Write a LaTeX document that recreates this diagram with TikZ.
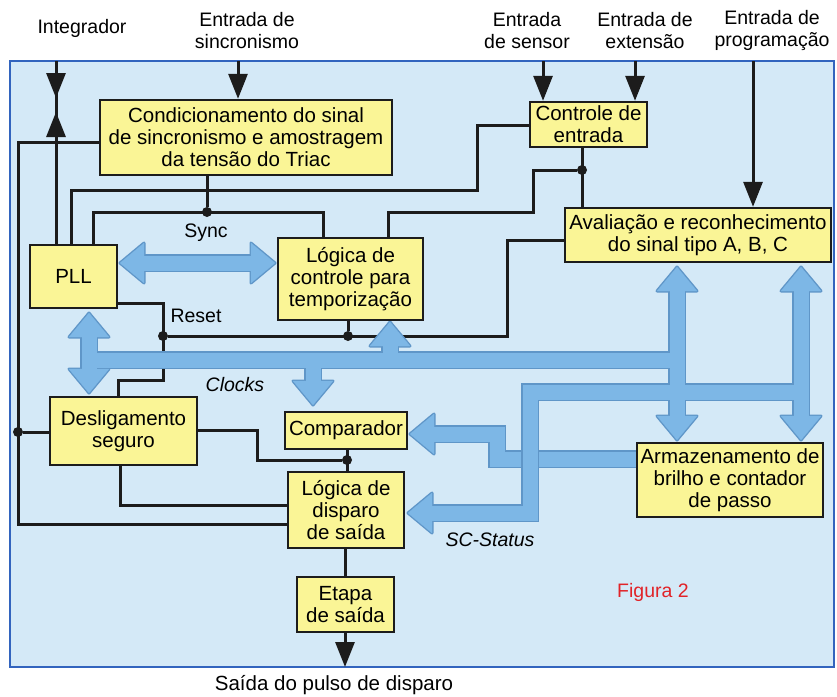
\documentclass[tikz,border=0pt]{standalone}
\usepackage{fontspec}
\setmainfont{Liberation Sans}
\usetikzlibrary{arrows.meta}
\pgfdeclarelayer{panel}
\pgfdeclarelayer{wires}
\pgfdeclarelayer{bands}
\pgfsetlayers{panel,wires,bands,main}
\definecolor{panelfill}{RGB}{212,233,247}
\definecolor{panelline}{RGB}{50,100,190}
\definecolor{boxfill}{RGB}{250,245,150}
\definecolor{wirec}{RGB}{28,28,28}
\definecolor{bandfill}{RGB}{125,183,230}
\definecolor{bandline}{RGB}{95,150,200}
\definecolor{figred}{RGB}{225,35,40}
\newcommand\boxfont{\fontsize{20.5}{22}\selectfont}
\newcommand\lblfont{\fontsize{19.5}{22}\selectfont}
\tikzset{
 box/.style={draw=wirec, line width=2.4pt, fill=boxfill, inner sep=1pt, align=center, font=\boxfont},
 lbl/.style={align=center, font=\lblfont, inner sep=0pt},
 wire/.style={draw=wirec, line width=3pt, line join=miter},
 arr/.style={-{Triangle[length=25pt,width=19pt]}},
 dot/.style={circle, fill=wirec, inner sep=0pt, minimum size=10pt},
 bandO/.style={draw=bandline, line width=18pt, line join=miter},
 bandF/.style={draw=bandfill, line width=15pt, line join=miter},
 headO/.style={draw=bandline, fill=bandline, line width=3pt, line join=round},
 headF/.style={draw=bandfill, fill=bandfill, line width=0.1pt},
}
\newcommand\hL[3]{\filldraw[#3] (#1,#2) -- ++(24,-20) -- ++(0,40) -- cycle;}
\newcommand\hR[3]{\filldraw[#3] (#1,#2) -- ++(-24,-20) -- ++(0,40) -- cycle;}
\newcommand\hU[3]{\filldraw[#3] (#1,#2) -- ++(-20,24) -- ++(40,0) -- cycle;}
\newcommand\hD[3]{\filldraw[#3] (#1,#2) -- ++(-20,-24) -- ++(40,0) -- cycle;}
\newcommand\armazband[2]{%
 \draw[#1] (640,459) -- (497,459) -- (497,434) -- (430,434);
 \hL{410}{434}{#2}}
\newcommand\bandnet[2]{%
 \draw[#1] (140,263) -- (255,263);
 \hL{120}{263}{#2} \hR{275}{263}{#2}
 \draw[#1] (89,335) -- (89,370);
 \draw[#1] (89,360) -- (677,360);
 \hU{89}{313}{#2} \hD{89}{393}{#2}
 \draw[#1] (313,360) -- (313,383);
 \hD{313}{405}{#2}
 \draw[#1] (390,360) -- (390,344);
 \hU{390}{322}{#2}
 \draw[#1] (677,287) -- (677,420);
 \hU{677}{267}{#2} \hD{677}{440}{#2}
 \draw[#1] (801,287) -- (801,420);
 \hU{801}{267}{#2} \hD{801}{440}{#2}
 \draw[#1] (801,392) -- (530,392) -- (530,513) -- (430,513);
 \hL{408}{513}{#2}}
\begin{document}
\begin{tikzpicture}[x=1pt,y=-1pt]
\useasboundingbox (0,0) rectangle (837,696);
\begin{pgfonlayer}{panel}
\fill[white] (0,0) rectangle (837,696);
\fill[panelfill] (10,61) rectangle (834,667);
\draw[panelline, line width=1.5pt] (10,61) rectangle (834,667);
\end{pgfonlayer}

% boxes
\node[box, minimum width=292pt, minimum height=75pt] (cond) at (246,137.5) {Condicionamento do sinal\\de sincronismo e amostragem\\da tensão do Triac};
\node[box, minimum width=117pt, minimum height=45pt] (ctrl) at (588.5,124.5) {Controle de\\entrada};
\node[box, minimum width=266pt, minimum height=54pt] (aval) at (698,235) {Avaliação e reconhecimento\\do sinal tipo A, B, C};
\node[box, minimum width=87pt, minimum height=63pt] (pll) at (73.5,276.5) {PLL};
\node[box, minimum width=145pt, minimum height=82pt] (lctrl) at (350.5,279) {Lógica de\\controle para\\temporização};
\node[box, minimum width=147pt, minimum height=68pt] (desl) at (123.5,431) {Desligamento\\seguro};
\node[box, minimum width=122pt, minimum height=37pt] (comp) at (346,430.5) {Comparador};
\node[box, minimum width=116pt, minimum height=76pt] (ldisp) at (346,510) {Lógica de\\disparo\\de saída};
\node[box, minimum width=97pt, minimum height=55pt] (etapa) at (345.5,604.5) {Etapa\\de saída};
\node[box, minimum width=186pt, minimum height=74pt] (armaz) at (730,480) {Armazenamento de\\brilho e contador\\de passo};

% input / output points
\coordinate (iInt) at (56,61);
\coordinate (iSync) at (238,61);
\coordinate (iSens) at (543,61);
\coordinate (iExt) at (635,61);
\coordinate (iProg) at (753,61);
\coordinate (oOut) at (345,667);

\begin{pgfonlayer}{wires}
\draw[wire] (iInt) -- (pll.north -| iInt);
\draw[wire,arr] (iInt) -- (56,98);
\draw[wire,arr] (pll.north -| iInt) -- (56,112);
\draw[wire,arr] (iSync) -- (cond.north -| iSync);
\draw[wire,arr] (iSens) -- (ctrl.north -| iSens);
\draw[wire,arr] (iExt) -- (ctrl.north -| iExt);
\draw[wire,arr] (iProg) -- (aval.north -| iProg);
\draw[wire] (cond.west |- 0,142) -- (18,142) -- (18,524) -- (ldisp.west |- 0,524);
\node[dot] (dL) at (18,432) {};
\draw[wire] (dL) -- (desl.west |- dL);
\draw[wire] (ctrl.west |- 0,125) -- (477,125) -- (477,190) -- (71,190) -- (pll.north -| 71,0);
\node[dot] (dS) at (207,212) {};
\draw[wire] (cond.south -| dS) -- (dS);
\draw[wire] (pll.north -| 93,0) -- (93,212) -- (323,212) -- (lctrl.north -| 323,0);
\node[dot] (dC) at (582,170) {};
\draw[wire] (ctrl.south -| dC) -- (aval.north -| dC);
\draw[wire] (dC) -- (533,170) -- (533,212) -- (388,212) -- (lctrl.north -| 388,0);
\node[dot] (dR) at (163,336) {};
\node[dot] (dT) at (348,336) {};
\draw[wire] (aval.west |- 0,240) -- (507,240) -- (507,336) -- (dR);
\draw[wire] (lctrl.south -| dT) -- (dT);
\draw[wire] (pll.east |- 0,303) -- (163,303) -- (163,380) -- (118,380) -- (desl.north -| 118,0);
\node[dot] (dK) at (347,460) {};
\draw[wire] (desl.east |- 0,430) -- (257,430) -- (257,460) -- (dK);
\draw[wire] (comp.south -| dK) -- (ldisp.north -| dK);
\draw[wire] (desl.south -| 120,0) -- (120,505) -- (ldisp.west |- 0,505);
\draw[wire] (ldisp.south -| 345,0) -- (etapa.north -| 345,0);
\draw[wire,arr] (etapa.south -| oOut) -- (oOut);
\end{pgfonlayer}

\begin{pgfonlayer}{bands}
\armazband{bandO}{headO}
\armazband{bandF}{headF}
\bandnet{bandO}{headO}
\bandnet{bandF}{headF}
\end{pgfonlayer}

% labels
\node[lbl] (tInt) at (82,28) {Integrador};
\node[lbl] (tSync) at (247,31) {Entrada de\\sincronismo};
\node[lbl] (tSens) at (527,31) {Entrada\\de sensor};
\node[lbl] (tExt) at (645,31) {Entrada de\\extensão};
\node[lbl] (tProg) at (772,31) {Entrada de\\programação};
\node[lbl, font=\fontsize{20.5}{22}\selectfont] (tOut) at (334,685) {Saída do pulso de disparo};
\node[lbl] (lSync) at (206,233) {Sync};
\node[lbl] (lReset) at (196,316) {Reset};
\node[lbl, font=\lblfont\itshape] (lClocks) at (235,385) {Clocks};
\node[lbl, font=\lblfont\itshape] (lSC) at (490,540) {SC-Status};
\node[lbl, text=figred] (lFig) at (653,592) {Figura 2};
\end{tikzpicture}
\end{document}
